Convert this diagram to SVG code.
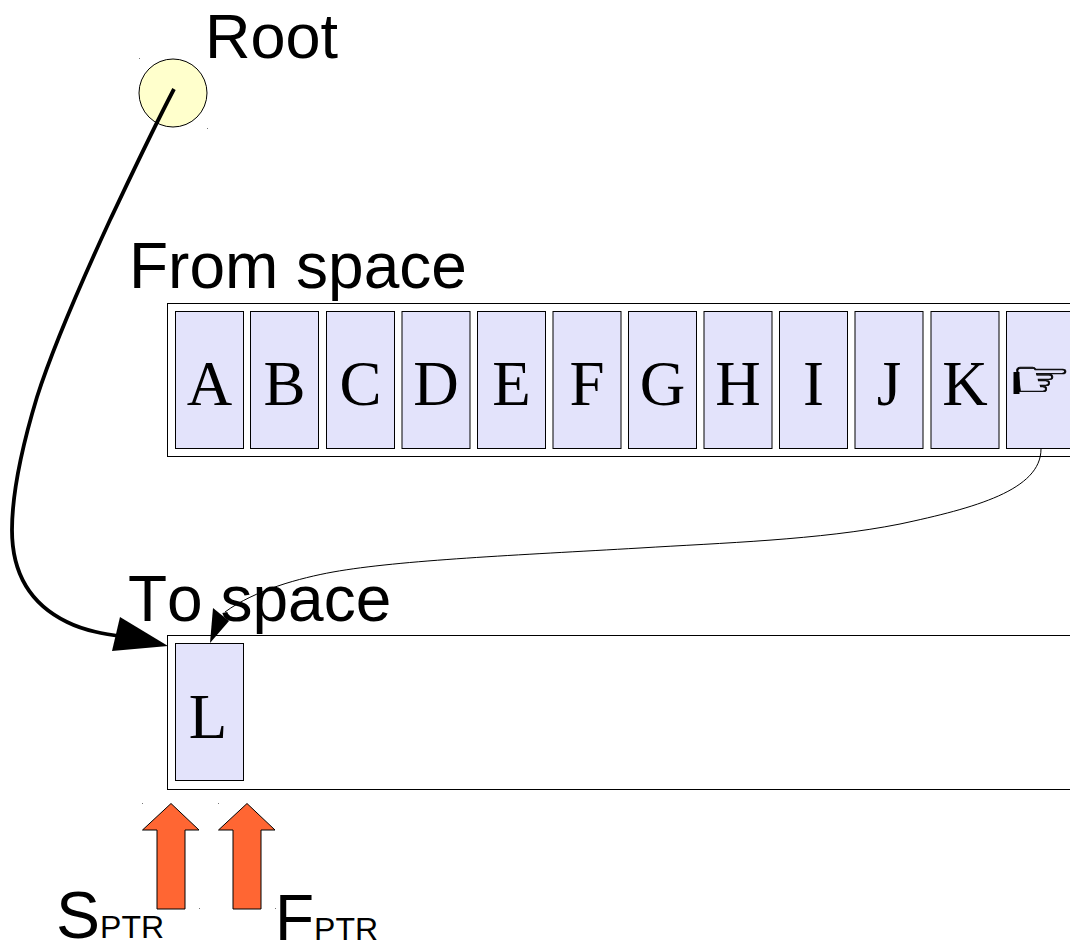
<svg xmlns="http://www.w3.org/2000/svg" width="1070" height="944" viewBox="0 0 1070 944">
<style>
.lbl{font-family:"Liberation Sans",Arial,sans-serif;font-size:64px;font-kerning:none;fill:#000}
.sub{font-size:32px}
.cell rect{fill:#e3e3fb;stroke:#000;stroke-width:1}
.cell text{font-family:"Liberation Serif","Times New Roman",serif;font-size:63px;text-anchor:middle;fill:#000}
.space{fill:#fff;stroke:#000;stroke-width:1}
.ptr{fill:#ff6633;stroke:#000;stroke-width:1}
.dot{fill:#777}
</style>
<rect width="1070" height="944" fill="#fff"/>
<g id="root"><circle cx="173" cy="93" r="34" fill="#ffffcc" stroke="#000" stroke-width="1"/>
<rect class="dot" x="139" y="58" width="1" height="1"/><rect class="dot" x="207" y="128" width="1" height="1"/>
<text class="lbl" x="205" y="58" style="font-size:63px">Root</text></g>
<g id="from-space"><text class="lbl" x="129" y="288">From space</text>
<rect class="space" x="167.500" y="303.500" width="920" height="153"/></g>
<g id="to-space"><rect class="space" x="167.500" y="635.500" width="920" height="154"/></g>
<g id="cell-a" class="cell"><rect x="175.500" y="311.500" width="68" height="137"/><text x="209.500" y="405">A</text></g>
<g id="cell-b" class="cell"><rect x="250.500" y="311.500" width="68" height="137"/><text x="284.500" y="405">B</text></g>
<g id="cell-c" class="cell"><rect x="326.500" y="311.500" width="68" height="137"/><text x="360.500" y="405">C</text></g>
<g id="cell-d" class="cell"><rect x="402" y="311.500" width="68" height="137"/><text x="436" y="405">D</text></g>
<g id="cell-e" class="cell"><rect x="477.500" y="311.500" width="68" height="137"/><text x="511.500" y="405">E</text></g>
<g id="cell-f" class="cell"><rect x="553" y="311.500" width="68" height="137"/><text x="587" y="405">F</text></g>
<g id="cell-g" class="cell"><rect x="628.500" y="311.500" width="68" height="137"/><text x="662.500" y="405">G</text></g>
<g id="cell-h" class="cell"><rect x="704" y="311.500" width="68" height="137"/><text x="738" y="405">H</text></g>
<g id="cell-i" class="cell"><rect x="779.500" y="311.500" width="68" height="137"/><text x="813.500" y="405">I</text></g>
<g id="cell-j" class="cell"><rect x="855" y="311.500" width="68" height="137"/><text x="889" y="405">J</text></g>
<g id="cell-k" class="cell"><rect x="931" y="311.500" width="68" height="137"/><text x="965" y="405">K</text></g>
<g id="cell-hand" class="cell"><rect x="1006.500" y="311.500" width="68" height="137"/>
<rect x="1013.500" y="372" width="6" height="22" style="fill:#000;stroke:none"/>
<text transform="translate(1041 397) scale(1.1 .85)" x="0" y="0" style="font-family:'DejaVu Sans',sans-serif;font-size:62px;stroke:#000;stroke-width:.7">☞</text></g>
<g id="cell-l" class="cell"><rect x="175.500" y="643.500" width="68" height="137"/><text x="208" y="738">L</text></g>
<text class="lbl" x="128" y="621" id="to-label">To space</text>
<g id="connectors">
<path d="M174 89C150 135 130 178 110 220C80 285 52 350 37 397C24 440 12 490 12 530C12 572 30 604 67 622C85 631 105 634 125 637" fill="none" stroke="#000" stroke-width="3.800"/>
<polygon points="168,646 120,617 112,651" fill="#000"/>
<path d="M1041 449C1041 490 975 508 900 524C820 540 720 543 640 548C520 555 400 560 333 572C300 578 255 590 225 612" fill="none" stroke="#000" stroke-width="1"/>
<polygon points="210,643 213,608 229,621" fill="#000"/>
</g>
<g id="sptr"><path class="ptr" d="M171 803.500L199 830H185V909H157V830H142.500Z"/>
<rect class="dot" x="142" y="803" width="1" height="1"/><rect class="dot" x="199" y="908" width="1" height="1"/>
<text class="lbl" x="56" y="938" style="font-size:66px">S<tspan class="sub">PTR</tspan></text></g>
<g id="fptr"><path class="ptr" d="M247 803.500L275 830H261V909H233V830H218.500Z"/>
<rect class="dot" x="218" y="803" width="1" height="1"/><rect class="dot" x="275" y="908" width="1" height="1"/>
<text class="lbl" x="275" y="940" style="font-size:64px">F<tspan class="sub">PTR</tspan></text></g>
</svg>
